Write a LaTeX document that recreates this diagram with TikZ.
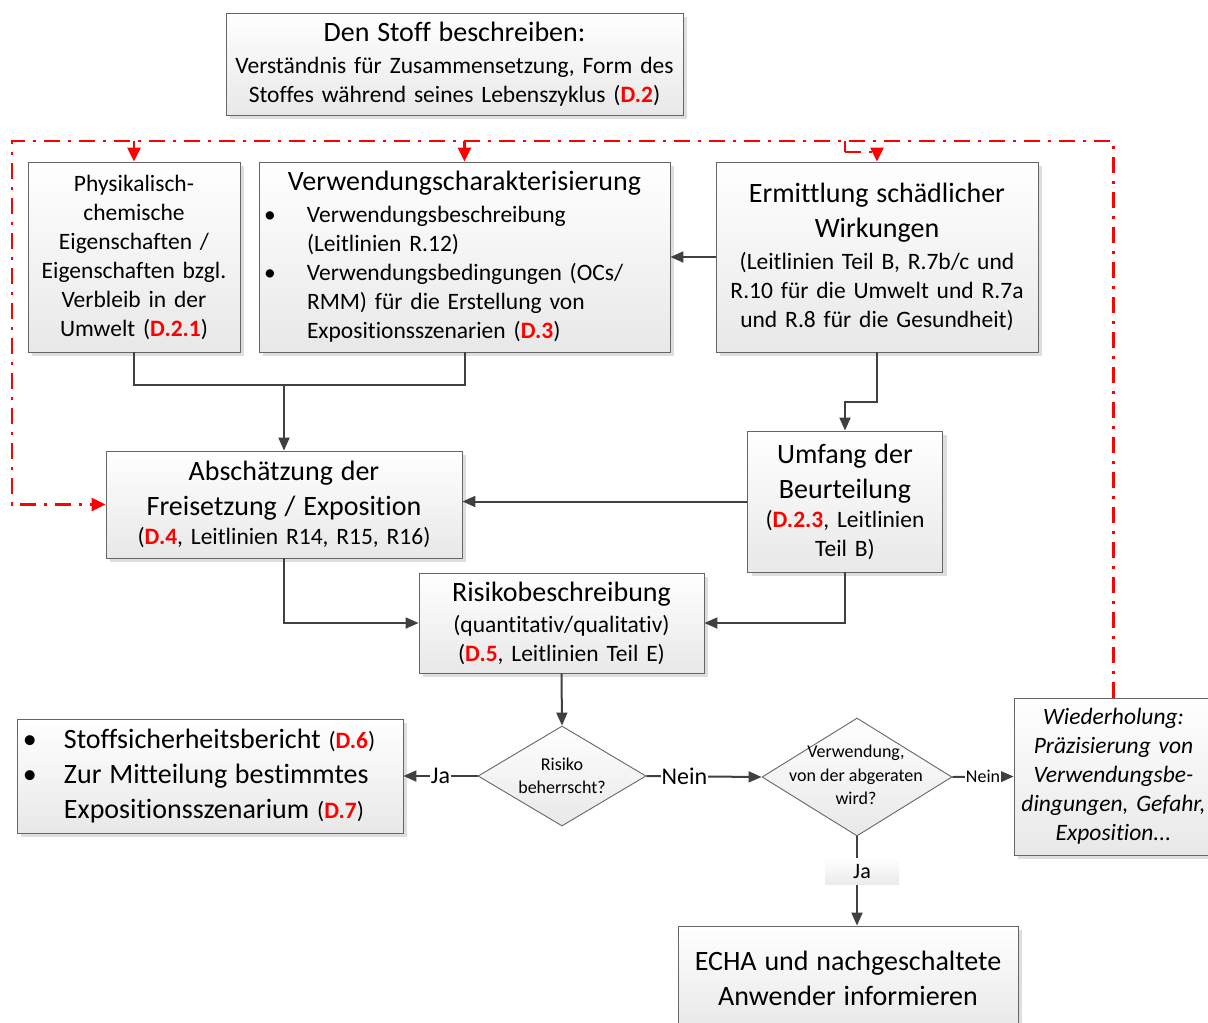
\documentclass[tikz,border=0pt]{standalone}
\usepackage{fontspec}
\setmainfont{Carlito}[Ligatures=NoCommon]
\usetikzlibrary{arrows.meta,shadows,shapes.geometric}
\setlength{\parindent}{0pt}
\newcommand\bigf{\fontsize{28}{35}\selectfont}
\newcommand\smf{\fontsize{23.5}{29}\selectfont}
\newcommand\dif{\fontsize{18}{23.5}\selectfont}
\newcommand\dref[1]{\textcolor{red}{\textbf{#1}}}
\tikzset{
  box/.style={draw=black!60, line width=0.9pt, top color=white, bottom color=black!9,
    drop shadow={shadow xshift=4pt, shadow yshift=-4pt, fill=black!13, opacity=1},
    inner sep=2pt, align=center, font=\smf},
  dia/.style={diamond, draw=black!60, line width=0.9pt, top color=white,
    bottom color=black!9, inner sep=0pt},
  dtext/.style={align=center, font=\dif, inner sep=0pt},
  conn/.style={draw=black!75, line width=2pt},
  arr/.style={conn, -{Triangle[length=13pt,width=11pt]}},
  fb/.style={draw=red, line width=2.4pt, dash pattern=on 16pt off 8pt on 3pt off 8pt},
  fbarr/.style={fb, -{Triangle[length=14pt,width=13pt]}},
  lbl/.style={fill=white, inner sep=1pt, font=\fontsize{24}{28}\selectfont},
  jabox/.style={top color=white, bottom color=black!8, minimum width=74pt,
    minimum height=26pt, inner sep=0pt, font=\fontsize{22}{24}\selectfont},
}
\begin{document}
\begin{tikzpicture}[x=1pt,y=-1pt]
  \useasboundingbox (0,0) rectangle (1208,1023);
  % Boxes
  \node[box, minimum width=457pt, minimum height=102pt, text width=449pt] (stoff) at (454.5,64)
    {\bigf Den Stoff beschreiben:\par\vspace{3pt}\smf Verständnis für Zusammensetzung, Form des\\Stoffes während seines Lebenszyklus (\dref{D.2})};
  \node[box, minimum width=212pt, minimum height=190pt, text width=206pt] (phys) at (134,257)
    {Physikalisch-\\chemische\\Eigenschaften /\\Eigenschaften bzgl.\\Verbleib in der\\Umwelt (\dref{D.2.1})};
  \node[box, minimum width=411pt, minimum height=190pt, text width=401pt, inner xsep=5pt, align=left] (verw) at (464.5,257)
    {{\bigf\makebox[401pt][c]{Verwendungscharakterisierung}\par}\vspace{3pt}
     \makebox[43pt][l]{\textbullet}Verwendungsbeschreibung\\
     \hspace*{43pt}(Leitlinien R.12)\\
     \makebox[43pt][l]{\textbullet}Verwendungsbedingungen (OCs/\\
     \hspace*{43pt}RMM) für die Erstellung von\\
     \hspace*{43pt}Expositionsszenarien (\dref{D.3})};
  \node[box, minimum width=322pt, minimum height=190pt, text width=316pt] (ermitt) at (877,257)
    {\bigf Ermittlung schädlicher\\Wirkungen\par\vspace{3pt}\smf (Leitlinien Teil B, R.7b/c und\\R.10 für die Umwelt und R.7a\\und R.8 für die Gesundheit)};
  \node[box, minimum width=356pt, minimum height=107pt, text width=350pt] (absch) at (284,504.5)
    {\bigf Abschätzung der\\Freisetzung / Exposition\par\smf (\dref{D.4}, Leitlinien R14, R15, R16)};
  \node[box, minimum width=195pt, minimum height=141pt, text width=189pt] (umfang) at (845,501.5)
    {\bigf Umfang der\\Beurteilung\par\smf (\dref{D.2.3}, Leitlinien\\Teil B)};
  \node[box, minimum width=285pt, minimum height=100pt, text width=279pt] (risk) at (561.5,623)
    {\bigf Risikobeschreibung\par\vspace{2pt}\smf (quantitativ/qualitativ)\\(\dref{D.5}, Leitlinien Teil E)};
  \node[box, minimum width=386pt, minimum height=114pt, text width=374pt, inner xsep=6pt, align=left] (ssb) at (210,776)
    {\bigf\makebox[41pt][l]{\textbullet}Stoffsicherheitsbericht {\smf(\dref{D.6})}\\
     \makebox[41pt][l]{\textbullet}Zur Mitteilung bestimmtes\\
     \hspace*{41pt}Expositionsszenarium {\smf(\dref{D.7})}\par};
  \node[box, minimum width=199pt, minimum height=157pt, text width=193pt, font=\smf\itshape] (wdh) at (1113.5,776.5)
    {Wiederholung:\\Präzisierung von\\Verwendungsbe-\\dingungen, Gefahr,\\Exposition...};
  \node[box, minimum width=340pt, minimum height=104pt, text width=334pt] (echa) at (848,978)
    {\bigf ECHA und nachgeschaltete\\Anwender informieren\par};
  % Decisions
  \node[dia, minimum width=168pt, minimum height=100pt] (ctl) at (562,776) {};
  \node[dtext] (ctltxt) at (ctl) {Risiko\\beherrscht?};
  \node[dia, minimum width=190pt, minimum height=118pt] (advise) at (857,777) {};
  \node[dtext] (advisetxt) at (856,775) {Verwendung,\\von der abgeraten\\wird?};
  % Connectors
  \coordinate (mrg) at (284,385);
  \draw[conn] (phys.south) |- (mrg) -| (verw.south);
  \draw[arr] (mrg) -- (absch.north);
  \draw[arr] (ermitt.west) -- (verw.east);
  \draw[arr] (ermitt.south) -- ++(0,50) -| (umfang.north);
  \draw[arr] (umfang.west) -- (absch.east |- umfang.west);
  \draw[arr] (absch.south) |- (risk.west);
  \draw[arr] (umfang.south) |- (risk.east);
  \draw[arr] (risk.south) -- (ctl.north);
  \draw[arr] (ctl.west) -- node[lbl] (ja1) {Ja} (ssb.east);
  \draw[arr] (ctl.east) -- node[lbl, pos=0.33] (nein1) {Nein} (advise.west);
  \draw[arr] (advise.east) -- node[lbl, font=\fontsize{18}{20}\selectfont] (nein2) {Nein} (wdh.west);
  \draw[arr] (advise.south) -- node[jabox, pos=0.39, xshift=5pt] (ja2) {Ja} (advise.south |- echa.north);
  % Feedback loop
  \coordinate (fbl) at (12,141);
  \coordinate (jog) at (845,152);
  \draw[fbarr] (wdh.north) |- (fbl) |- (absch.west);
  \draw[fbarr] (phys.north |- fbl) -- (phys.north);
  \draw[fbarr] (verw.north |- fbl) -- (verw.north);
  \draw[fb] (umfang.north |- fbl) -- (jog);
  \draw[fbarr] (jog) -| (ermitt.north);
\end{tikzpicture}
\end{document}
